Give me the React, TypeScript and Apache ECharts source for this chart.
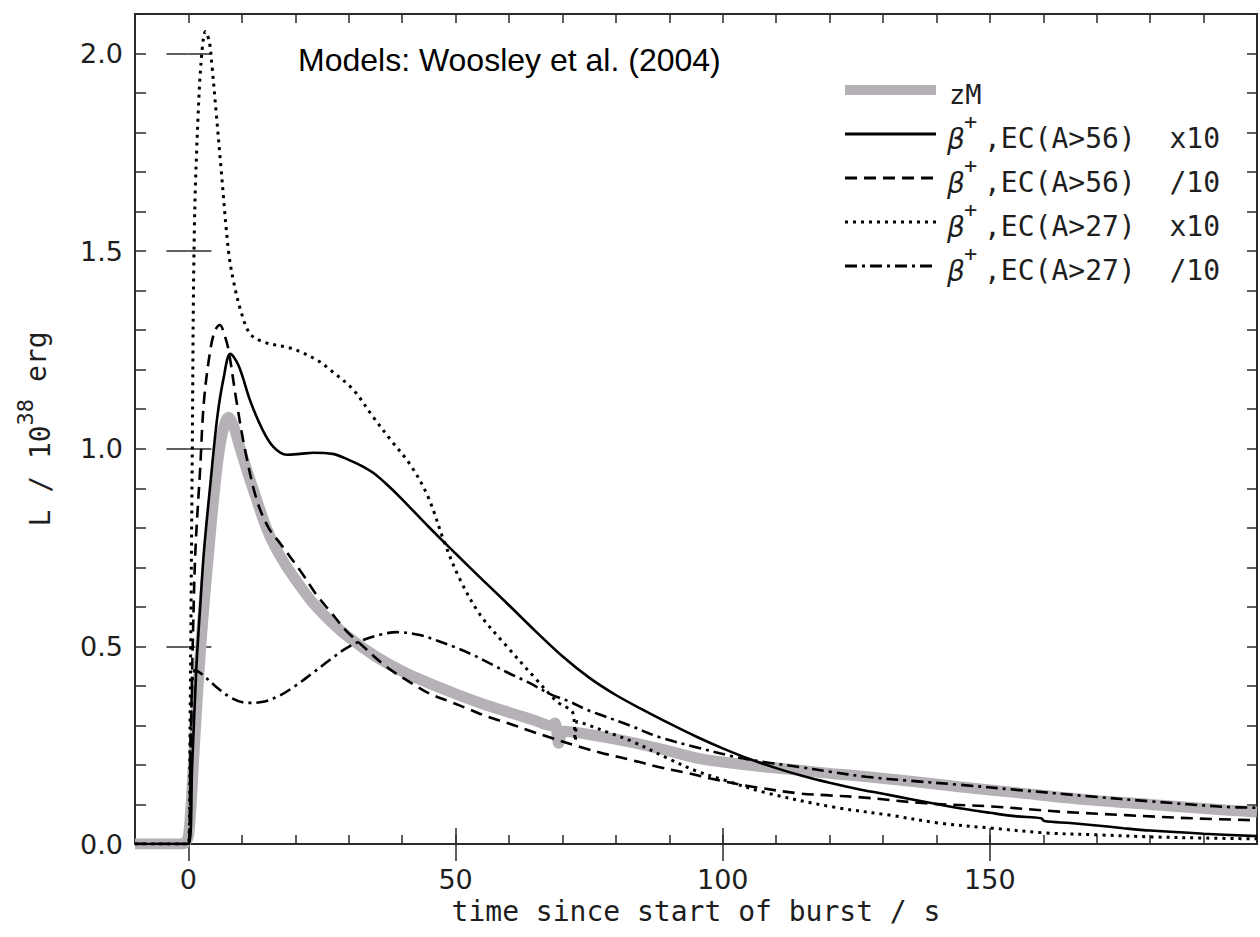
import React, { useEffect, useRef } from "react";
import * as echarts from "echarts";

// ---- data (time since start of burst [s], L [1e38 erg]) ----
const zmCurve = [
  [-10, 0], [-1.2, 0], [-0.5, 0.005], [0, 0.02], [0.5, 0.1], [1.0, 0.22], [1.8, 0.4], [2.7, 0.57],
  [3.8, 0.74], [5.0, 0.91], [6.2, 1.03], [7.5, 1.08], [8.5, 1.055], [9.7, 1.0], [11.2, 0.935],
  [12.8, 0.87], [14.3, 0.81], [15.9, 0.76], [18, 0.71], [20, 0.67], [23, 0.615], [26.5, 0.565],
  [30, 0.523], [35, 0.475], [40, 0.437], [45, 0.407], [50, 0.38], [55, 0.355], [60, 0.333],
  [65, 0.312], [67.8, 0.3], [68.6, 0.306], [69.3, 0.255], [70.2, 0.285], [75, 0.277], [83, 0.257],
  [90, 0.235], [95.7, 0.216], [102, 0.204], [108, 0.195], [114, 0.187], [120.5, 0.178],
  [125.6, 0.172], [133, 0.162], [144.2, 0.145], [155, 0.13], [169.1, 0.111], [180, 0.1],
  [194, 0.086], [200, 0.081],
];

const ec56x10 = [
  [-10, 0], [0, 0], [0.7, 0.2], [1.5, 0.45], [2.2, 0.6], [2.9, 0.74], [4.1, 0.91], [5.4, 1.08],
  [6.6, 1.18], [7.85, 1.24], [9.4, 1.21], [11.6, 1.12], [13.8, 1.05], [15.9, 1.005], [18.4, 0.985],
  [20.9, 0.987], [23.4, 0.99], [27, 0.987], [30, 0.972], [32.5, 0.956], [35, 0.935],
  [37.5, 0.905], [40, 0.872], [45, 0.802], [50, 0.735], [55, 0.669], [60, 0.604], [65, 0.538],
  [70, 0.475], [75, 0.421], [80, 0.377], [85, 0.34], [90, 0.305], [95, 0.272],
  [100, 0.242], [105, 0.215], [110, 0.192], [115, 0.172], [120, 0.155], [125, 0.14], [130, 0.127],
  [135, 0.114], [140, 0.101], [145, 0.089], [150, 0.079], [155, 0.07], [159.6, 0.065],
  [160.2, 0.058], [165, 0.053], [170, 0.047], [175, 0.04], [180, 0.034], [190, 0.026], [200, 0.02],
];

const ec56div10 = [
  [-10, 0], [0, 0], [0.4, 0.25], [0.8, 0.5], [1.3, 0.74], [2.2, 0.95], [2.9, 1.12], [4.1, 1.25],
  [5, 1.3], [5.9, 1.313], [6.7, 1.29], [7.5, 1.25], [9, 1.12], [10.6, 0.997], [12.8, 0.87], [15, 0.8],
  [17.2, 0.76], [21, 0.69], [24, 0.63], [26.8, 0.584], [29.5, 0.54], [32.7, 0.5], [36, 0.46],
  [39, 0.43], [42, 0.405], [45.2, 0.38], [49, 0.36], [52.7, 0.34], [56, 0.322], [60, 0.305],
  [64, 0.286], [68, 0.268], [73.2, 0.246], [78, 0.228], [83.1, 0.212], [88, 0.195], [93.2, 0.18],
  [99, 0.162], [105.6, 0.145], [114.3, 0.128], [120, 0.123], [126, 0.118], [138, 0.103],
  [150.4, 0.095], [163, 0.082], [175.4, 0.073], [187.8, 0.065], [200, 0.06],
];

const ec27x10 = [
  [-10, 0], [0, 0], [0.3, 0.3], [0.7, 0.96], [1.1, 1.55], [1.8, 1.84], [2.5, 2.0], [3.2, 2.056],
  [3.9, 2.03], [4.4, 1.97], [5.2, 1.85], [6.1, 1.71], [7.5, 1.5], [8.5, 1.42], [10, 1.34], [11.6, 1.29],
  [14.1, 1.27], [19, 1.255], [21, 1.245], [24, 1.225], [26.5, 1.2], [30.8, 1.15], [34.6, 1.08],
  [38, 1.02], [41.5, 0.96], [44.8, 0.88], [48, 0.76], [50.8, 0.67], [54.6, 0.58], [59.6, 0.5],
  [65.2, 0.415], [69, 0.36], [72, 0.33], [72.4, 0.26], [72.8, 0.31], [75, 0.3], [79, 0.28],
  [83, 0.26], [90, 0.215], [95, 0.185], [100, 0.163], [108, 0.13], [120.5, 0.094], [131.7, 0.072],
  [140.5, 0.053], [150.4, 0.04], [160.5, 0.028], [170.4, 0.023], [180.3, 0.018], [190.4, 0.015],
  [200, 0.013],
];

const ec27div10 = [
  [-10, 0], [0, 0], [0.5, 0.3], [1.2, 0.44], [2.5, 0.43], [5, 0.4], [8, 0.37], [11, 0.357], [14, 0.36],
  [17, 0.375], [20, 0.4], [23, 0.43], [26.5, 0.466], [29.5, 0.495], [32.7, 0.516], [36, 0.53],
  [39, 0.536], [43.3, 0.529], [46.5, 0.515], [49.5, 0.5], [53, 0.48], [56.4, 0.457], [60, 0.432],
  [63.9, 0.407], [67.6, 0.38], [71.4, 0.36], [74.5, 0.34], [77.5, 0.325], [82.6, 0.3], [88.2, 0.27],
  [95, 0.245], [101.8, 0.222], [108, 0.207], [114.3, 0.195], [120, 0.183], [126.9, 0.17],
  [135, 0.16], [144.2, 0.15], [155, 0.137], [169.1, 0.12], [180, 0.108], [194, 0.094], [200, 0.092],
];

const xMajorTicks = [0, 50, 100, 150];
const yMajorTicks = [0, 0.5, 1.0, 1.5, 2.0];
const seriesNames = ["zM", "β+,EC(A>56) x10", "β+,EC(A>56) /10", "β+,EC(A>27) x10", "β+,EC(A>27) /10"];
const legendSuffix = [",EC(A>56)  x10", ",EC(A>56)  /10", ",EC(A>27)  x10", ",EC(A>27)  /10"];
const titleText = "Models: Woosley et al. (2004)";

const AX = "#2a2a2a";
const TXT = "#1e1e1e";
const GRAY = "#b5b1b6";
const MONO = '"DejaVu Sans Mono", monospace';
const SANS = '"DejaVu Sans", sans-serif';

const lineStyles: any[] = [
  { color: GRAY, width: 11, type: "solid", cap: "butt" },
  { color: "#000", width: 2.6, type: "solid" },
  { color: "#000", width: 2.6, type: [12, 7] },
  { color: "#000", width: 3, type: [3, 5] },
  { color: "#000", width: 2.6, type: [12, 5, 3, 5] },
];
const seriesData = [zmCurve, ec56x10, ec56div10, ec27x10, ec27div10];

function baseX(extra: any) {
  return Object.assign(
    {
      type: "value",
      min: -10,
      max: 200,
      splitLine: { show: false },
      axisLine: { show: true, onZero: false, lineStyle: { color: AX, width: 2 } },
      axisLabel: { show: false },
    },
    extra
  );
}
function baseY(extra: any) {
  return Object.assign(
    {
      type: "value",
      min: 0,
      max: 2.1,
      splitLine: { show: false },
      axisLine: { show: true, onZero: false, lineStyle: { color: AX, width: 2 } },
      axisLabel: { show: false },
    },
    extra
  );
}

export default function App() {
  const ref = useRef<HTMLDivElement>(null);
  useEffect(() => {
    const chart = echarts.init(ref.current!, null, { renderer: "svg" });

    const legendRowsY = [95, 138, 182, 226, 270];
    const graphic: any[] = [
      {
        type: "text",
        x: 298,
        y: 60,
        style: {
          text: titleText,
          font: '32px "Liberation Sans", Arial, sans-serif',
          fill: "#000",
          verticalAlign: "middle",
        },
      },
    ];
    legendRowsY.forEach((ty, i) => {
      const ly = i === 0 ? ty - 5 : ty - 4;
      graphic.push({
        type: "line",
        shape: { x1: 845, y1: ly, x2: 936, y2: ly },
        style: {
          stroke: lineStyles[i].color,
          lineWidth: i === 0 ? 10 : 2.8,
          lineDash: Array.isArray(lineStyles[i].type) ? lineStyles[i].type : null,
        },
      });
      if (i === 0) {
        graphic.push({
          type: "text",
          x: 949,
          y: ty - 1,
          style: {
            text: seriesNames[0],
            font: `27px ${MONO}`,
            lineHeight: 22,
            fill: TXT,
            verticalAlign: "middle",
          },
        });
      } else {
        graphic.push(
          {
            type: "text",
            x: 947,
            y: ty + 1,
            style: {
              text: "β",
              font: `italic 28px ${SANS}`,
              lineHeight: 24,
              fill: TXT,
              verticalAlign: "middle",
            },
          },
          {
            type: "text",
            x: 964,
            y: ty - 17,
            style: {
              text: "+",
              font: `22px ${MONO}`,
              lineHeight: 14,
              fill: TXT,
              verticalAlign: "middle",
            },
          },
          {
            type: "text",
            x: 984,
            y: ty,
            style: {
              text: legendSuffix[i - 1],
              font: `28px ${MONO}`,
              lineHeight: 24,
              fill: TXT,
              verticalAlign: "middle",
            },
          }
        );
      }
    });

    const option: any = {
      animation: false,
      backgroundColor: "#ffffff",
      grid: { left: 135, top: 14, right: 1, bottom: 93, containLabel: false },
      xAxis: [
        baseX({
          position: "bottom",
          interval: 10,
          axisTick: { show: true, inside: true, length: 9, lineStyle: { color: AX, width: 1.5 } },
          axisLabel: {
            show: true,
            margin: 22,
            color: TXT,
            fontFamily: SANS,
            fontSize: 27,
            formatter: (v: number) => (v >= 0 && v < 200 && v % 50 === 0 ? String(v) : ""),
          },
          name: "time since start of burst / s",
          nameLocation: "middle",
          nameGap: 52,
          nameTextStyle: { color: TXT, fontFamily: MONO, fontSize: 28 },
        }),
        baseX({
          position: "bottom",
          axisLine: { show: false },
          axisTick: {
            show: true,
            inside: true,
            length: 16,
            customValues: xMajorTicks,
            lineStyle: { color: AX, width: 1.5 },
          },
        }),
        baseX({
          position: "top",
          interval: 10,
          axisTick: { show: true, inside: true, length: 9, lineStyle: { color: AX, width: 1.5 } },
        }),
        baseX({
          position: "top",
          axisLine: { show: false },
          axisTick: {
            show: true,
            inside: true,
            length: 17,
            customValues: xMajorTicks,
            lineStyle: { color: AX, width: 1.5 },
          },
        }),
      ],
      yAxis: [
        baseY({
          position: "left",
          interval: 0.1,
          axisTick: { show: true, inside: true, length: 11, lineStyle: { color: AX, width: 1.5 } },
          axisLabel: {
            show: true,
            margin: 12,
            color: TXT,
            fontFamily: SANS,
            fontSize: 27,
            formatter: (v: number) => {
              const r = Math.round(v * 10);
              return r % 5 === 0 ? (r / 10).toFixed(1) : "";
            },
          },
          name: "{a|L / 10}{s|38}{e| erg}",
          nameLocation: "middle",
          nameRotate: 90,
          nameGap: 69,
          nameTextStyle: {
            color: TXT,
            rich: {
              a: { fontFamily: MONO, fontSize: 28, color: TXT },
              s: { fontFamily: MONO, fontSize: 22, color: TXT, padding: [0, 0, 30, 0] },
              e: { fontFamily: MONO, fontSize: 28, color: TXT, padding: [0, 0, 8, 0] },
            },
          },
        }),
        baseY({
          position: "left",
          axisLine: { show: false },
          axisTick: {
            show: true,
            inside: true,
            length: 23,
            customValues: yMajorTicks,
            lineStyle: { color: AX, width: 1.5 },
          },
        }),
        baseY({
          position: "right",
          interval: 0.1,
          axisTick: { show: true, inside: true, length: 10, lineStyle: { color: AX, width: 1.5 } },
        }),
        baseY({
          position: "right",
          axisLine: { show: false },
          axisTick: {
            show: true,
            inside: true,
            length: 22,
            customValues: yMajorTicks,
            lineStyle: { color: AX, width: 1.5 },
          },
        }),
      ],
      series: seriesData.map((d, i) => ({
        name: seriesNames[i],
        type: "line",
        xAxisIndex: 0,
        yAxisIndex: 0,
        data: d,
        symbol: "none",
        showSymbol: false,
        smooth: 0.35,
        lineStyle: lineStyles[i],
        z: i === 0 ? 1 : 3,
        silent: true,
      })),
      graphic,
    };
    chart.setOption(option);
    return () => chart.dispose();
  }, []);

  return (
    <div
      ref={ref}
      style={{ position: "absolute", left: 0, top: 0, width: 1260, height: 937, background: "#fff" }}
    />
  );
}
